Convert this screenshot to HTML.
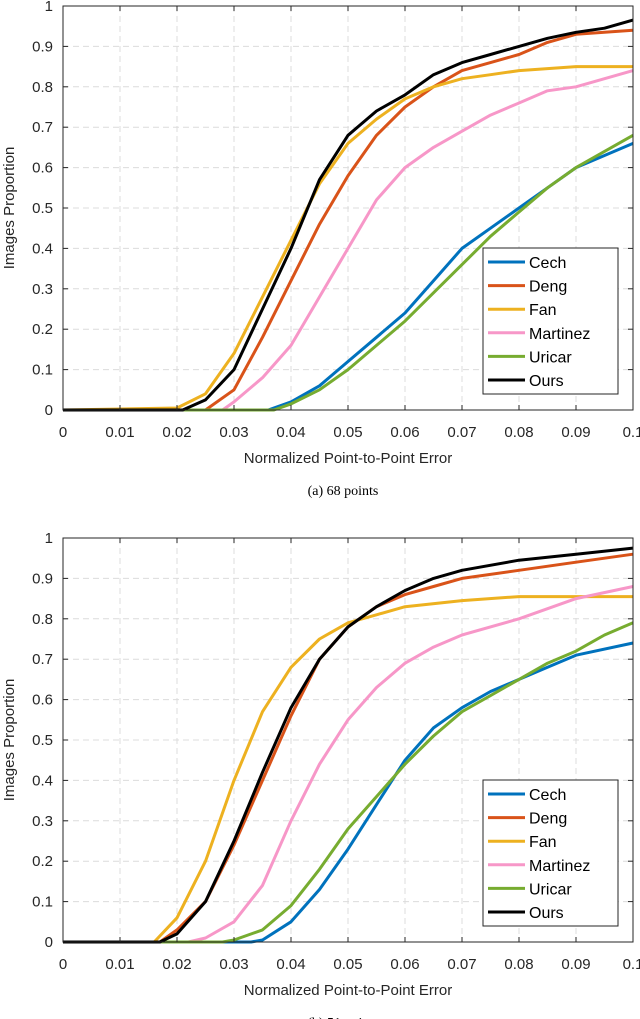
<!DOCTYPE html>
<html><head><meta charset="utf-8">
<style>
html,body{margin:0;padding:0;background:#fff;}
svg{display:block;font-family:"Liberation Sans",sans-serif;}
</style></head>
<body>
<svg id="s" width="640" height="1019" viewBox="0 0 640 1019"></svg>
<script>
const series = ["Cech","Deng","Fan","Martinez","Uricar","Ours"];
const colors = ["#0072BD","#D95319","#EDB120","#F797C8","#77AC30","#000000"];
const xTicks = [0,0.01,0.02,0.03,0.04,0.05,0.06,0.07,0.08,0.09,0.1];
const xTickLabels = ["0","0.01","0.02","0.03","0.04","0.05","0.06","0.07","0.08","0.09","0.1"];
const yTicks = [0,0.1,0.2,0.3,0.4,0.5,0.6,0.7,0.8,0.9,1];
const yTickLabels = ["0","0.1","0.2","0.3","0.4","0.5","0.6","0.7","0.8","0.9","1"];

// Chart A (68 points)
const a_cech_x = [0,0.036,0.04,0.045,0.05,0.055,0.06,0.065,0.07,0.075,0.08,0.085,0.09,0.095,0.1];
const a_cech_y = [0,0,0.02,0.06,0.12,0.18,0.24,0.32,0.4,0.45,0.5,0.55,0.6,0.63,0.66];
const a_deng_x = [0,0.025,0.03,0.035,0.04,0.045,0.05,0.055,0.06,0.065,0.07,0.075,0.08,0.085,0.09,0.1];
const a_deng_y = [0,0,0.05,0.18,0.32,0.46,0.58,0.68,0.75,0.8,0.84,0.86,0.88,0.91,0.93,0.94];
const a_fan_x = [0,0.02,0.025,0.03,0.035,0.04,0.045,0.05,0.055,0.06,0.065,0.07,0.075,0.08,0.09,0.1];
const a_fan_y = [0,0.005,0.04,0.14,0.28,0.42,0.56,0.66,0.72,0.77,0.8,0.82,0.83,0.84,0.85,0.85];
const a_mart_x = [0,0.028,0.03,0.035,0.04,0.045,0.05,0.055,0.06,0.065,0.07,0.075,0.08,0.085,0.09,0.095,0.1];
const a_mart_y = [0,0,0.02,0.08,0.16,0.28,0.4,0.52,0.6,0.65,0.69,0.73,0.76,0.79,0.8,0.82,0.84];
const a_uri_x = [0,0.037,0.04,0.045,0.05,0.055,0.06,0.065,0.07,0.075,0.08,0.085,0.09,0.095,0.1];
const a_uri_y = [0,0,0.015,0.05,0.1,0.16,0.22,0.29,0.36,0.43,0.49,0.55,0.6,0.64,0.68];
const a_ours_x = [0,0.021,0.025,0.03,0.035,0.04,0.045,0.05,0.055,0.06,0.065,0.07,0.075,0.08,0.085,0.09,0.095,0.1];
const a_ours_y = [0,0,0.025,0.1,0.25,0.4,0.57,0.68,0.74,0.78,0.83,0.86,0.88,0.9,0.92,0.935,0.945,0.965];

// Chart B (51 points)
const b_cech_x = [0,0.033,0.035,0.04,0.045,0.05,0.055,0.06,0.065,0.07,0.075,0.08,0.085,0.09,0.1];
const b_cech_y = [0,0,0.005,0.05,0.13,0.23,0.34,0.45,0.53,0.58,0.62,0.65,0.68,0.71,0.74];
const b_deng_x = [0,0.017,0.02,0.025,0.03,0.035,0.04,0.045,0.05,0.055,0.06,0.065,0.07,0.08,0.09,0.1];
const b_deng_y = [0,0,0.03,0.1,0.24,0.4,0.56,0.7,0.78,0.83,0.86,0.88,0.9,0.92,0.94,0.96];
const b_fan_x = [0,0.016,0.02,0.025,0.03,0.035,0.04,0.045,0.05,0.055,0.06,0.07,0.08,0.1];
const b_fan_y = [0,0,0.06,0.2,0.4,0.57,0.68,0.75,0.79,0.81,0.83,0.845,0.855,0.855];
const b_mart_x = [0,0.022,0.025,0.03,0.035,0.04,0.045,0.05,0.055,0.06,0.065,0.07,0.08,0.09,0.1];
const b_mart_y = [0,0,0.01,0.05,0.14,0.3,0.44,0.55,0.63,0.69,0.73,0.76,0.8,0.85,0.88];
const b_uri_x = [0,0.028,0.03,0.035,0.04,0.045,0.05,0.055,0.06,0.065,0.07,0.075,0.08,0.085,0.09,0.095,0.1];
const b_uri_y = [0,0,0.005,0.03,0.09,0.18,0.28,0.36,0.44,0.51,0.57,0.61,0.65,0.69,0.72,0.76,0.79];
const b_ours_x = [0,0.017,0.02,0.025,0.03,0.035,0.04,0.045,0.05,0.055,0.06,0.065,0.07,0.08,0.09,0.1];
const b_ours_y = [0,0,0.02,0.1,0.25,0.42,0.58,0.7,0.78,0.83,0.87,0.9,0.92,0.945,0.96,0.975];

const NS = "http://www.w3.org/2000/svg";
const svg = document.getElementById('s');
function el(tag, attrs, parent){
  const e = document.createElementNS(NS, tag);
  for (const k in attrs) e.setAttribute(k, attrs[k]);
  (parent||svg).appendChild(e);
  return e;
}

function chart(prefix, top, bottom, xs, ys, caption){
  const L = 63, R = 633;
  const g = el('g', {});
  
  
  const sx = v => L + (v/0.1)*(R-L);
  const sy = v => bottom - v*(bottom-top);
  // grid
  xTicks.forEach((t,i)=>{
    if(i>0 && i<xTicks.length-1){
      const l = el('line',{x1:sx(t),x2:sx(t),y1:top,y2:bottom,stroke:'#dcdcdc','stroke-dasharray':'6,4','stroke-width':1},g);
      
      
    }
  });
  yTicks.forEach((t,i)=>{
    if(i>0 && i<yTicks.length-1){
      const l = el('line',{x1:L,x2:R,y1:sy(t),y2:sy(t),stroke:'#dcdcdc','stroke-dasharray':'6,4','stroke-width':1},g);
      
      
    }
  });
  // series
  const all = [[xs[0],ys[0]],[xs[1],ys[1]],[xs[2],ys[2]],[xs[3],ys[3]],[xs[4],ys[4]],[xs[5],ys[5]]];
  all.forEach((d,i)=>{
    const pts = d[0].map((x,j)=>sx(x).toFixed(1)+','+sy(d[1][j]).toFixed(1)).join(' ');
    const p = el('polyline',{points:pts,fill:'none',stroke:colors[i],'stroke-width':3,'stroke-linejoin':'round'},g);
    
    
  });
  // axes box
  const box = el('rect',{x:L,y:top,width:R-L,height:bottom-top,fill:'none',stroke:'#262626','stroke-width':1},g);
  
  
  // ticks
  xTicks.forEach((t,i)=>{
    el('line',{x1:sx(t),x2:sx(t),y1:bottom,y2:bottom-5,stroke:'#262626'},g);
    el('line',{x1:sx(t),x2:sx(t),y1:top,y2:top+5,stroke:'#262626'},g);
    const tx = el('text',{x:sx(t),y:bottom+27,'font-size':15,'text-anchor':'middle',fill:'#262626'},g);
    tx.textContent = xTickLabels[i];
    
    
  });
  yTicks.forEach((t,i)=>{
    el('line',{x1:L,x2:L+5,y1:sy(t),y2:sy(t),stroke:'#262626'},g);
    el('line',{x1:R,x2:R-5,y1:sy(t),y2:sy(t),stroke:'#262626'},g);
    const tx = el('text',{x:L-10,y:sy(t)+5,'font-size':15,'text-anchor':'end',fill:'#262626'},g);
    tx.textContent = yTickLabels[i];
    
    
  });
  const xl = el('text',{x:(L+R)/2,y:bottom+53,'font-size':15,'text-anchor':'middle',fill:'#262626'},g);
  xl.textContent = 'Normalized Point-to-Point Error';
  
  
  const yl = el('text',{x:0,y:0,'font-size':15,'text-anchor':'middle',fill:'#262626',transform:'translate(14,'+((top+bottom)/2)+') rotate(-90)'},g);
  yl.textContent = 'Images Proportion';
  
  
  // legend
  const lx = 483, ly = bottom-162;
  const lg = el('g',{},g);
  
  
  el('rect',{x:lx,y:ly,width:135,height:146,fill:'#fff',stroke:'#262626','stroke-width':1},lg);
  series.forEach((s,i)=>{
    const yy = ly+14+i*23.6;
    el('line',{x1:lx+5,x2:lx+42,y1:yy,y2:yy,stroke:colors[i],'stroke-width':3},lg);
    const t = el('text',{x:lx+46,y:yy+6,'font-size':16,fill:'#000'},lg);
    t.textContent = s;
    
    
  });
  const c = el('text',{x:(L+R)/2-5,y:bottom+85,'font-size':14,'text-anchor':'middle',fill:'#000','font-family':'Liberation Serif, serif'},g);
  c.textContent = caption;
  
  
}

chart('a', 6, 410, [a_cech_x,a_deng_x,a_fan_x,a_mart_x,a_uri_x,a_ours_x],[a_cech_y,a_deng_y,a_fan_y,a_mart_y,a_uri_y,a_ours_y],'(a) 68 points');
chart('b', 538, 942, [b_cech_x,b_deng_x,b_fan_x,b_mart_x,b_uri_x,b_ours_x],[b_cech_y,b_deng_y,b_fan_y,b_mart_y,b_uri_y,b_ours_y],'(b) 51 points');
</script>
</body></html>
